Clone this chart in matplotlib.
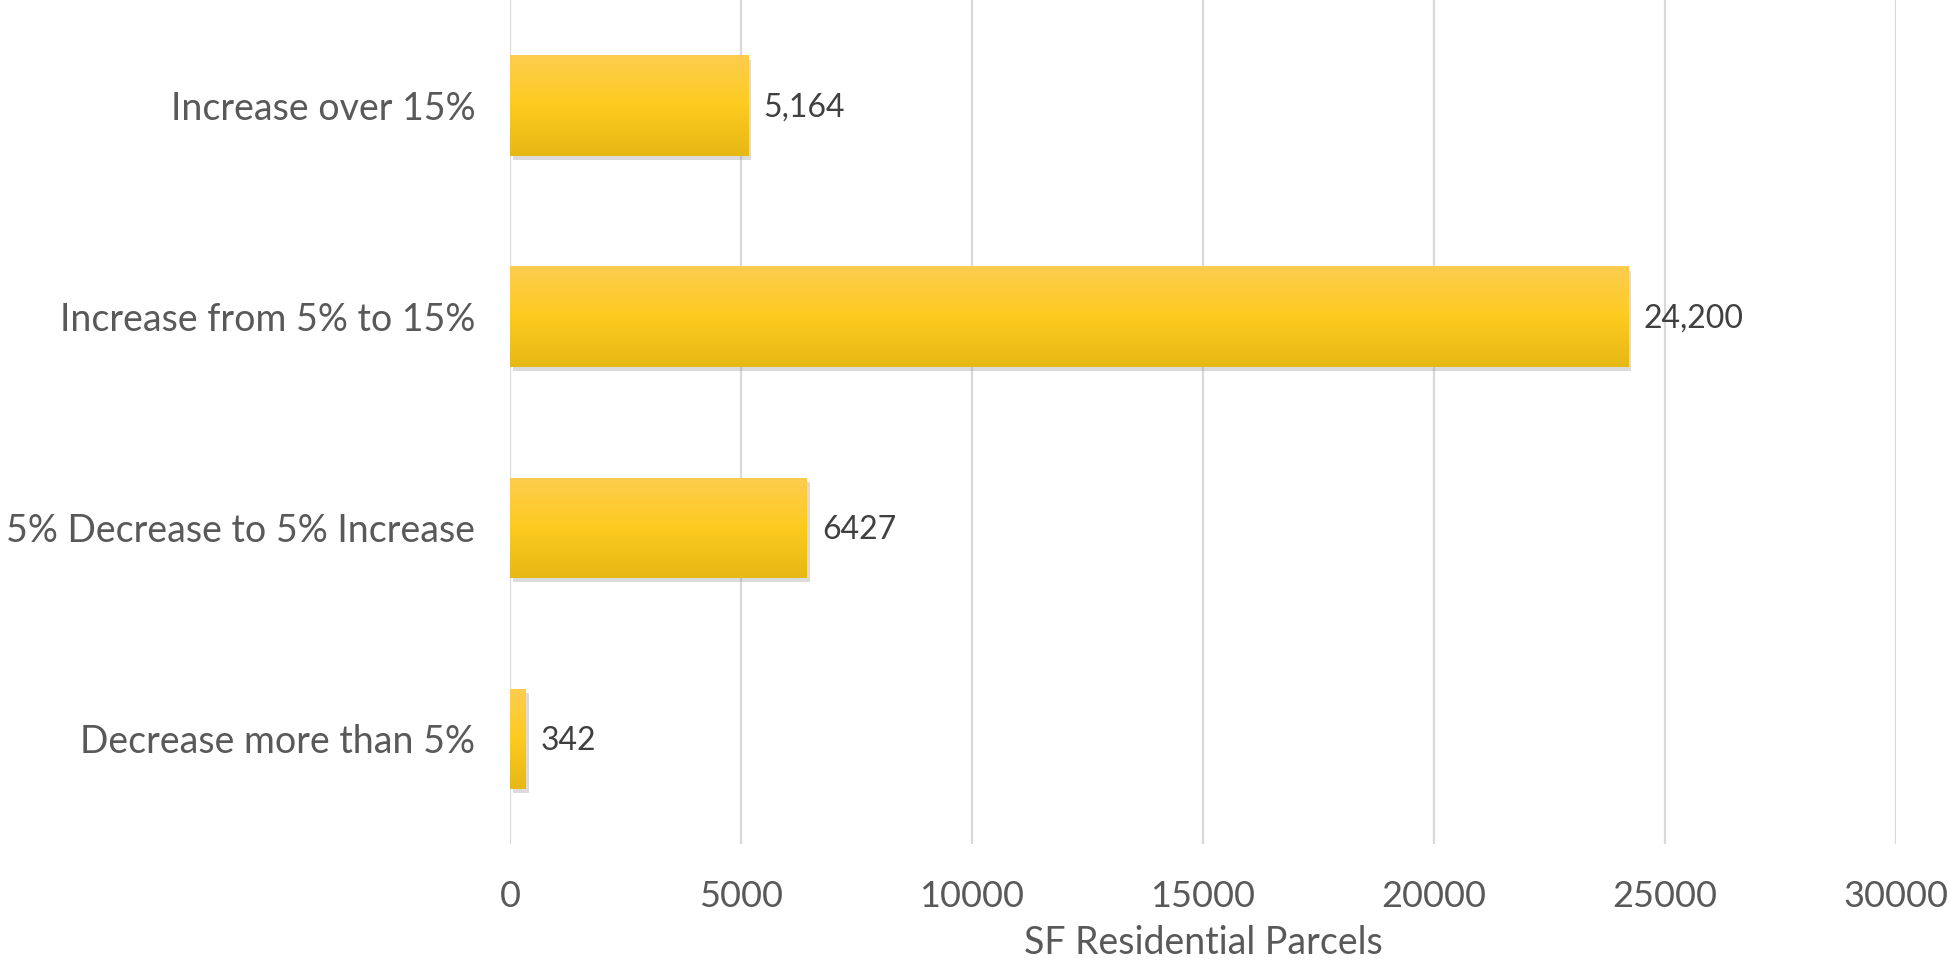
import numpy as np
import matplotlib.pyplot as plt
import matplotlib.patheffects as pe
from matplotlib.colors import LinearSegmentedColormap

plt.rcParams['font.family'] = ['Lato', 'DejaVu Sans']

# data
categories = ['Increase over 15%', 'Increase from 5% to 15%',
              '5% Decrease to 5% Increase', 'Decrease more than 5%']
values = [5164, 24200, 6427, 342]
value_labels = ['5,164', '24,200', '6427', '342']

fig = plt.figure(figsize=(19.56, 9.66), dpi=100)
ax = fig.add_axes([0.2607, 0.126, 0.7086, 0.874])

ypos = np.arange(len(categories))[::-1]
bar_h = 0.475

# gold gradient, top light -> bottom darker
cmap = LinearSegmentedColormap.from_list('gold', ['#fecd4f', '#fdcb1f', '#e6b814'])
grad = np.linspace(0, 1, 256).reshape(-1, 1)

bars = ax.barh(ypos, values, height=bar_h, color='#fdcb1f', zorder=3,
               path_effects=[pe.SimplePatchShadow(offset=(2, -3), shadow_rgbFace='#999999', alpha=0.35),
                             pe.Normal()])
for b in bars:
    x0, y0 = b.get_x(), b.get_y()
    w, h = b.get_width(), b.get_height()
    im = ax.imshow(grad, cmap=cmap, aspect='auto', extent=(x0, x0 + w, y0, y0 + h),
                   origin='upper', zorder=4)
    im.set_clip_path(b)

for y, v, lab in zip(ypos, values, value_labels):
    ax.text(v + 330, y - 0.01, lab, va='center', ha='left', fontsize=23, color='#404040', zorder=5)

ax.set_xlim(0, 30000)
ax.set_ylim(-0.5, 3.5)
ax.set_xticks(np.arange(0, 30001, 5000))
ax.set_yticks(ypos)
ax.set_yticklabels(categories, fontsize=27, color='#595959')
ax.tick_params(axis='x', labelsize=26, labelcolor='#595959', length=0, pad=26)
ax.tick_params(axis='y', length=0, pad=25)
ax.grid(axis='x', color='#d9d9d9', linewidth=1.6, zorder=0)
for s in ax.spines.values():
    s.set_visible(False)
ax.set_xlabel('SF Residential Parcels', fontsize=27, color='#595959', labelpad=8)

fig.savefig('out.png', dpi=100, facecolor='white')
